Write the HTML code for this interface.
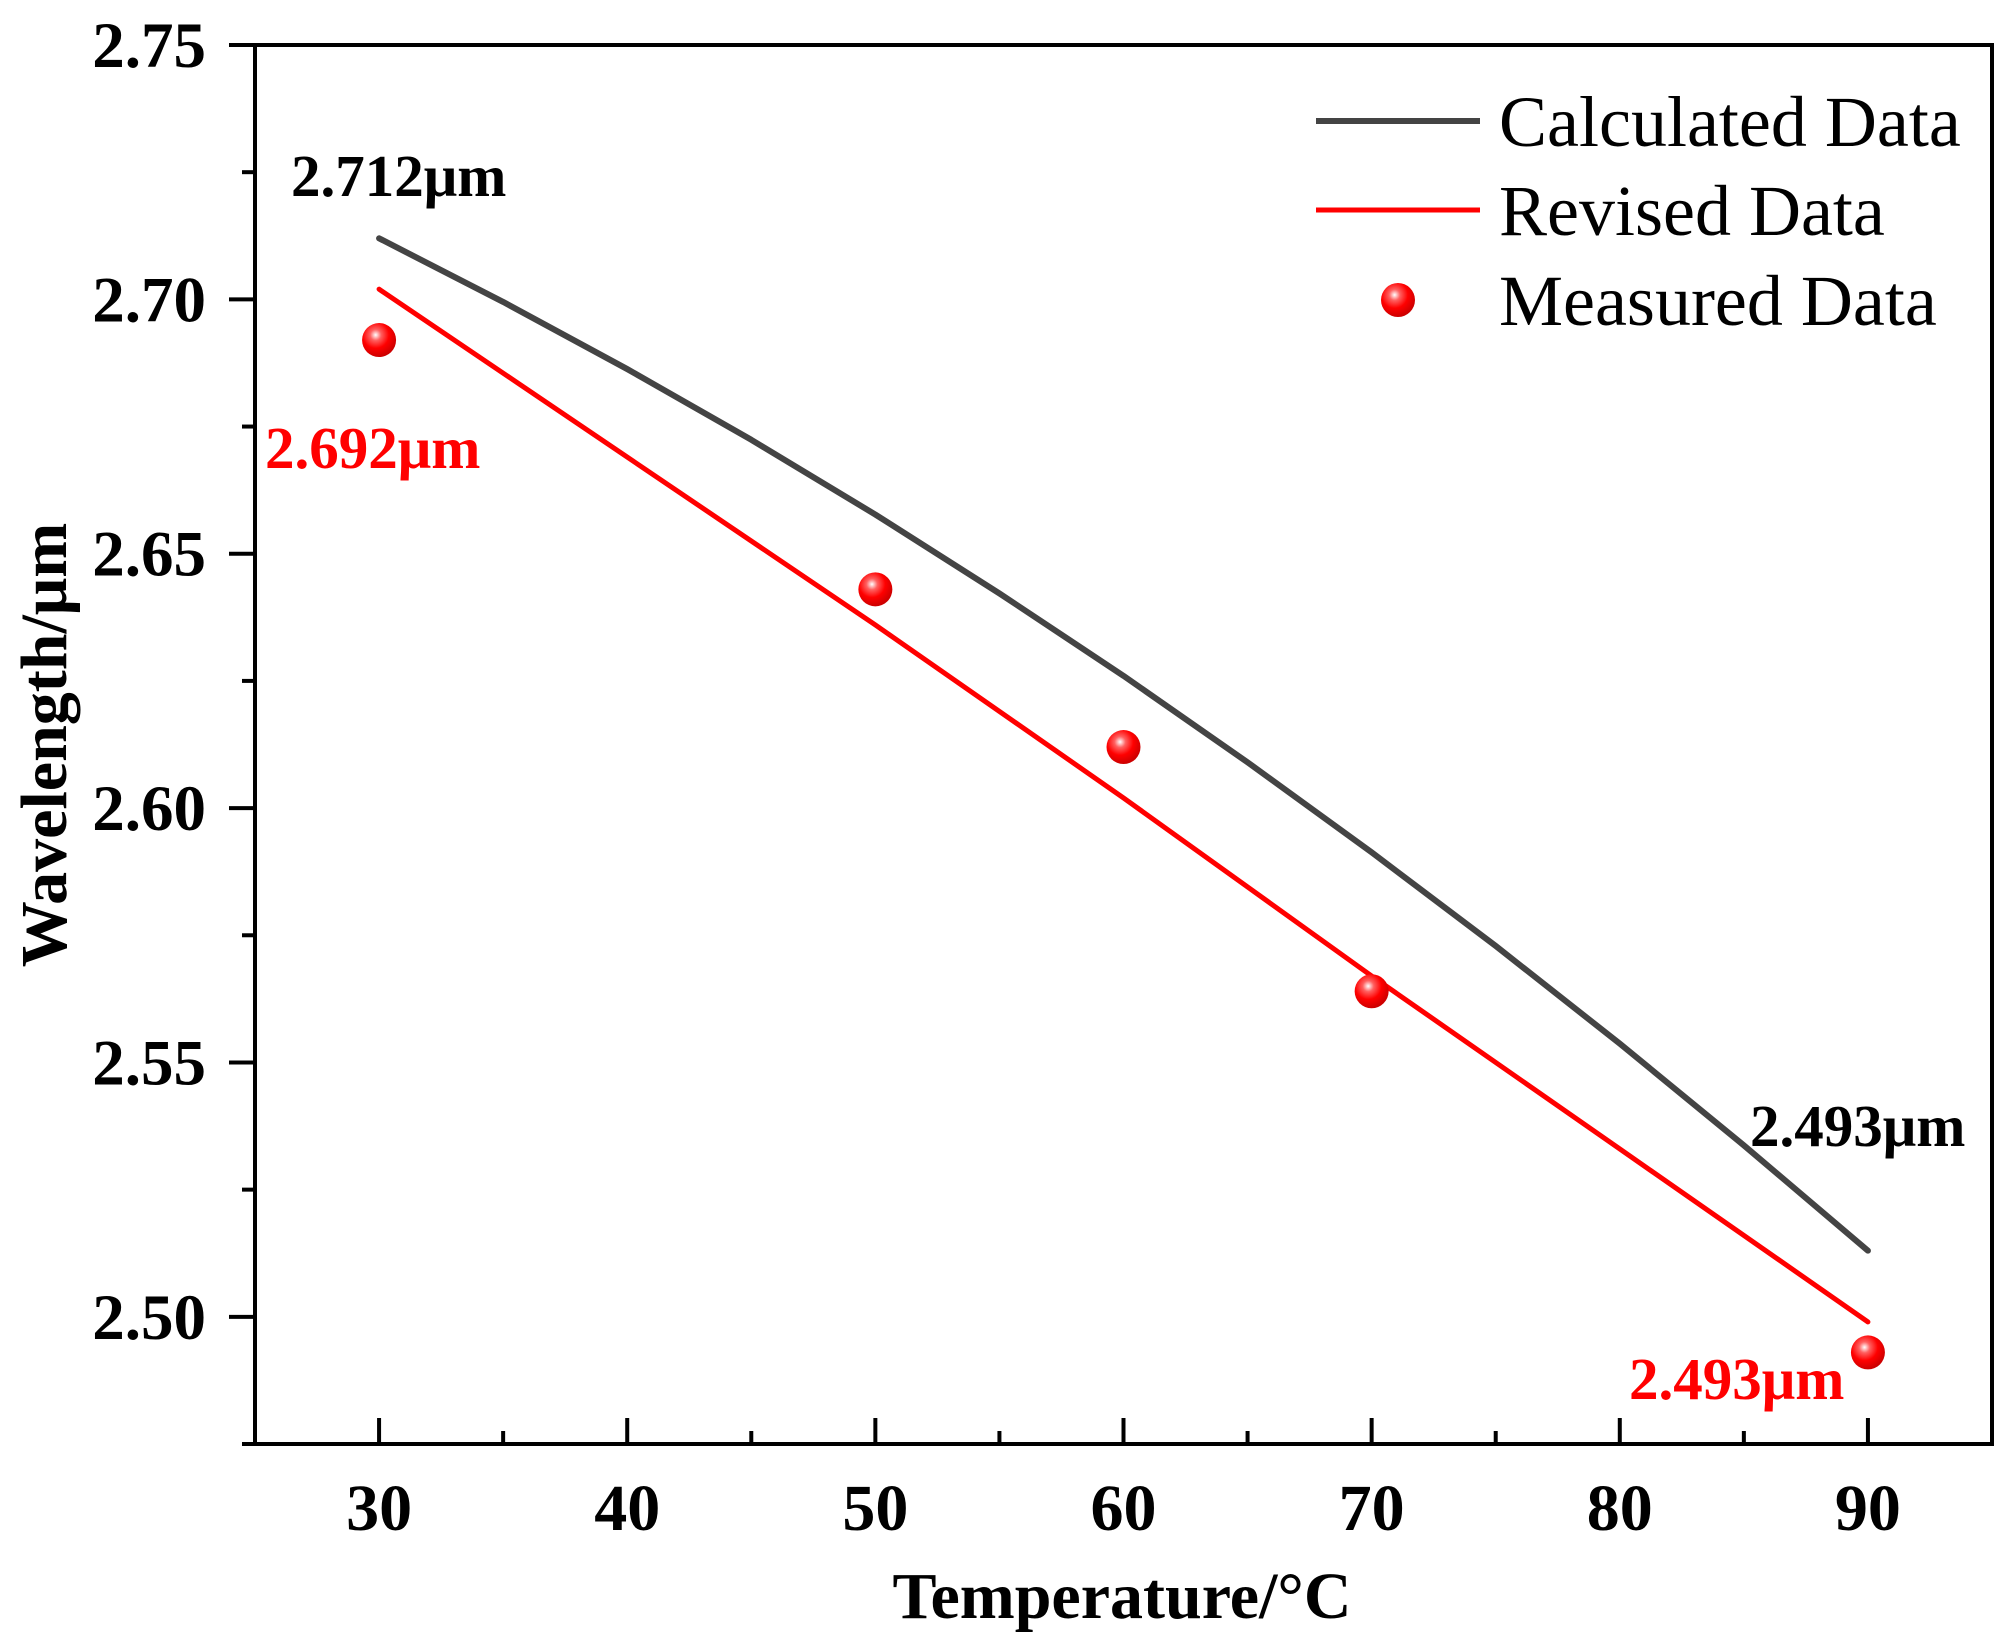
<!DOCTYPE html>
<html><head><meta charset="utf-8"><style>
html,body{margin:0;padding:0;background:#fff;}
svg{display:block;font-family:"Liberation Serif",serif;}
</style></head><body>
<svg id="chart" width="2000" height="1639" viewBox="0 0 2000 1639">
<defs>
<radialGradient id="ball" cx="0.4" cy="0.35" r="0.65">
<stop offset="0" stop-color="#fff"/><stop offset="0.25" stop-color="#ff6060"/><stop offset="0.6" stop-color="#f00"/><stop offset="1" stop-color="#c00"/>
</radialGradient>
</defs>
<g id="plot"></g>
</svg>
<script>
const xTicks=[30,40,50,60,70,80,90];
const yTicks=[2.50,2.55,2.60,2.65,2.70,2.75];
const calcX=[30,35,40,45,50,55,60,65,70,75,80,85,90];
const calcY=[2.712,2.6995,2.6863,2.6724,2.6577,2.6422,2.626,2.609,2.5913,2.5729,2.5537,2.5337,2.513];
const revX=[30,40,50,60,70,80,90];
const revY=[2.702,2.669,2.636,2.602,2.567,2.533,2.499];
const measX=[30,50,60,70,90];
const measY=[2.692,2.643,2.612,2.564,2.493];
const L=255,R=1992,T=45,B=1444,X0=25,X1=95,Y0=2.475,Y1=2.75;
const sx=v=>L+(v-X0)/(X1-X0)*(R-L);
const sy=v=>B-(v-Y0)/(Y1-Y0)*(B-T);
const NS='http://www.w3.org/2000/svg';
const g=document.getElementById('plot');
function mk(tag,attrs,parent){const e=document.createElementNS(NS,tag);for(const k in attrs)e.setAttribute(k,attrs[k]);(parent||g).appendChild(e);return e;}
const frame=mk('rect',{x:L,y:T,width:R-L,height:B-T,fill:'none',stroke:'#000','stroke-width':4});


for(let v=X0;v<=X1;v+=5){
  const major=xTicks.includes(v);
  const t=mk('line',{x1:sx(v),x2:sx(v),y1:B,y2:B-(major?26:13),stroke:'#000','stroke-width':4});
  
  
}
xTicks.forEach(v=>{
  const t=mk('text',{x:sx(v),y:1530,'text-anchor':'middle','font-size':66,'font-weight':'bold'});
  t.textContent=v;
  
  
});
for(let i=0;i<=11;i++){
  const v=2.475+i*0.025;
  const major=i%2===1;
  const t=mk('line',{x1:L,x2:L-(major?26:13),y1:sy(v),y2:sy(v),stroke:'#000','stroke-width':4});
  
  
}
yTicks.forEach(v=>{
  const t=mk('text',{x:206,y:sy(v)+22,'text-anchor':'end','font-size':65,'font-weight':'bold'});
  t.textContent=v.toFixed(2);
  
  
});
const xt=mk('text',{x:1122,y:1618,'text-anchor':'middle','font-size':66,'font-weight':'bold'});
xt.textContent='Temperature/°C';


const yt=mk('text',{x:0,y:0,'text-anchor':'middle','font-size':66,'font-weight':'bold',transform:'translate(66,745) rotate(-90)'});
yt.textContent='Wavelength/μm';


const cl=mk('polyline',{points:calcX.map((x,i)=>sx(x)+','+sy(calcY[i])).join(' '),fill:'none',stroke:'#444','stroke-width':6,'stroke-linecap':'round','stroke-linejoin':'round'});


const rl=mk('polyline',{points:revX.map((x,i)=>sx(x)+','+sy(revY[i])).join(' '),fill:'none',stroke:'#f00','stroke-width':5,'stroke-linecap':'round','stroke-linejoin':'round'});


measX.forEach((x,i)=>{
  const c=mk('circle',{cx:sx(x),cy:sy(measY[i]),r:17,fill:'url(#ball)'});
  
  
});
function ann(txt,x,y,col,name){const t=mk('text',{x:x,y:y,'font-size':59,'font-weight':'bold',fill:col});t.textContent=txt;

}
ann('2.712μm',291,196,'#000','label-calc-start');
ann('2.692μm',265,468,'#f00','label-measured-start');
ann('2.493μm',1750,1146,'#000','label-calc-end');
ann('2.493μm',1629,1399,'#f00','label-measured-end');
const lg=mk('g',{});


const l1=mk('line',{x1:1316,x2:1480,y1:121,y2:121,stroke:'#444','stroke-width':6},lg);


const l2=mk('line',{x1:1316,x2:1480,y1:210,y2:210,stroke:'#f00','stroke-width':5},lg);


const l3=mk('circle',{cx:1398,cy:300,r:17,fill:'url(#ball)'},lg);


[['Calculated Data',146],['Revised Data',235],['Measured Data',325]].forEach(([s,y])=>{
  const t=mk('text',{x:1499,y:y,'font-size':72},lg);t.textContent=s;
  
  
});
</script>
</body></html>
